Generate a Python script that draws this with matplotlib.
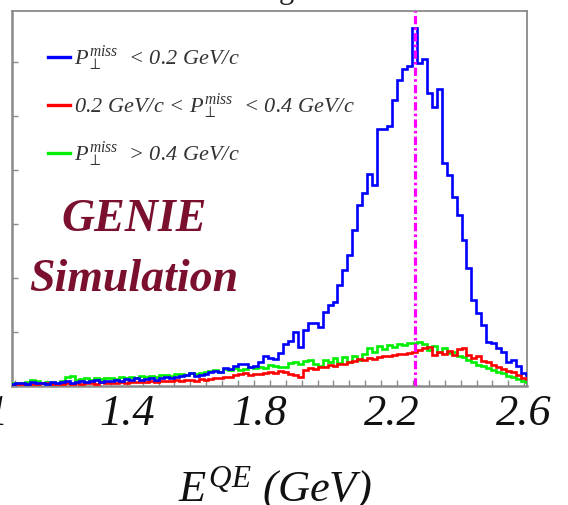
import numpy as np
import matplotlib
matplotlib.use("Agg")
import matplotlib.pyplot as plt
from matplotlib.lines import Line2D
from matplotlib.ticker import MultipleLocator
from matplotlib.transforms import offset_copy

plt.rcParams["font.family"] = ["Liberation Serif", "DejaVu Serif"]
plt.rcParams["mathtext.fontset"] = "custom"
plt.rcParams["mathtext.rm"] = "Liberation Serif"
plt.rcParams["mathtext.it"] = "Liberation Serif:italic"
plt.rcParams["mathtext.bf"] = "Liberation Serif:bold"

# Binning of the reconstructed energy histograms (GeV)
bin_start = 1.047
bin_width = 0.015

# Counts per bin for the three missing-transverse-momentum slices
low_pt = [
    8, 12, 10, 6, 14, 10, 12, 9, 15, 11,
    14, 18, 12, 16, 20, 13, 17, 22, 15, 19,
    18, 24, 20, 26, 22, 28, 21, 25, 30, 24,
    28, 32, 30, 35, 38, 42, 48, 36, 40, 44,
    52, 55, 52, 67, 63, 74, 81, 81, 70, 74,
    89, 111, 104, 100, 122, 156, 167, 200, 144, 207,
    233, 233, 218, 274, 300, 311, 374, 430, 485, 578,
    670, 714, 784, 744, 951, 951, 962, 1058, 1132, 1173,
    1184, 1325, 1195, 1213, 1084, 1033, 1099, 825, 781, 700,
    633, 540, 437, 318, 270, 226, 163, 159, 141, 126,
    89, 96, 74, 48, 40,
]
mid_pt = [
    5, 6, 8, 7, 6, 9, 12, 10, 8, 7,
    8, 10, 9, 11, 8, 12, 10, 9, 13, 11,
    12, 10, 14, 12, 15, 13, 16, 14, 17, 15,
    18, 20, 17, 22, 19, 24, 21, 20, 25, 22,
    26, 30, 28, 34, 32, 40, 44, 48, 42, 46,
    44, 50, 52, 48, 54, 52, 46, 40, 34, 60,
    68, 64, 72, 70, 78, 74, 82, 80, 88, 92,
    100, 96, 104, 100, 108, 112, 110, 116, 120, 118,
    122, 126, 133, 141, 144, 115, 126, 118, 130, 115,
    137, 141, 115, 104, 111, 93, 89, 78, 70, 63,
    56, 52, 41, 30, 26,
]
high_pt = [
    10, 12, 11, 13, 22, 20, 12, 14, 16, 12,
    18, 35, 36, 22, 25, 28, 24, 30, 26, 28,
    30, 26, 32, 28, 34, 30, 36, 32, 38, 34,
    40, 42, 38, 44, 46, 40, 48, 44, 50, 52,
    55, 58, 52, 62, 60, 66, 58, 64, 70, 66,
    72, 68, 78, 74, 70, 72, 86, 90, 82, 92,
    96, 81, 74, 96, 89, 104, 85, 107, 89, 111,
    96, 118, 141, 126, 148, 137, 152, 144, 156, 152,
    159, 159, 163, 156, 133, 148, 126, 141, 122, 126,
    111, 107, 96, 89, 78, 74, 67, 59, 52, 48,
    37, 33, 26, 19, 15,
]

series_labels = [
    r"$P_{\perp}^{miss}$  < 0.2 GeV/c",
    r"0.2 GeV/c < $P_{\perp}^{miss}$  < 0.4 GeV/c",
    r"$P_{\perp}^{miss}$  > 0.4 GeV/c",
]
series_colors = ["#0000ff", "#ff0000", "#00ee00"]

beam_energy = 2.27
tick_values = [1.0, 1.4, 1.8, 2.2, 2.6]
tick_labels = ["1", "1.4", "1.8", "2.2", "2.6"]

fig = plt.figure(figsize=(5.68, 5.05), dpi=100)
ax = fig.add_axes([12 / 568, 1 - 386 / 505, 515 / 568, 375 / 505])

n_bins = len(low_pt)
edges = bin_start + bin_width * np.arange(n_bins + 1)

# draw lower-statistics slices first so the dominant one sits on top
for counts, color, z in zip([high_pt, mid_pt, low_pt],
                            [series_colors[2], series_colors[1], series_colors[0]],
                            [3, 4, 5]):
    ax.stairs(counts, edges, color=color, lw=1.9, zorder=z, baseline=None)

ax.axvline(beam_energy, color="#ff00ff", lw=2.3, zorder=6,
           dashes=[2.6, 1.0, 0.8, 1.0])

ax.set_xlim(1.053, 2.610)
ax.set_ylim(0, 1389)

# frame and ticks
for side, sp in ax.spines.items():
    sp.set_color("#8a8a8a")
    sp.set_linewidth(1.3)
ax.spines["left"].set_linewidth(1.8)
ax.spines["bottom"].set_linewidth(1.8)

ax.yaxis.set_major_locator(MultipleLocator(200))
ax.set_yticklabels([])
ax.xaxis.set_major_locator(MultipleLocator(0.04807, offset=2.2653 % 0.04807))
ax.set_xticklabels([])
ax.tick_params(axis="both", which="major", direction="in", length=4.5,
               width=1.0, color="#8a8a8a", top=False, right=False)

# energy axis labels (the leftmost one sits partly beyond the canvas edge)
label_shift = [2, 0, 0, 0, 0]
for val, lab, dx in zip(tick_values, tick_labels, label_shift):
    tr = offset_copy(ax.get_xaxis_transform(), fig=fig, x=dx, y=0, units="dots")
    ax.text(val, -0.075, lab, transform=tr,
            ha="center", va="center", fontsize=32, style="italic",
            color="#111111", clip_on=False)

fig.text(275 / 568, 1 - 489 / 505, r"$E^{QE}$ (GeV)", ha="center", va="center",
         fontsize=32, style="italic", color="#111111")

# legend
handles = [Line2D([], [], color=c, lw=2.4) for c in series_colors]
leg = ax.legend(handles, series_labels, loc="upper left",
                bbox_to_anchor=(0.070, 0.913), frameon=False,
                handlelength=1.0, handletextpad=0.15, labelspacing=0.82,
                prop={"size": 16, "style": "italic"}, labelcolor="#333333",
                borderaxespad=0, borderpad=0)

# simulation tag
tag_color = "#7a0f2e"
ax.text(122 / 515, 1 - (220 - 11) / 375, "GENIE",
        transform=ax.transAxes, ha="center", va="center", fontsize=33,
        fontweight="bold", style="italic", color=tag_color)
ax.text(121.5 / 515, 1 - (280 - 11) / 375, "Simulation",
        transform=ax.transAxes, ha="center", va="center", fontsize=33,
        fontweight="bold", style="italic", color=tag_color)

# descender of the title line above the frame
fig.text(286 / 568, 1 + 2 / 505, "g", ha="center", va="baseline",
         fontsize=22, color="#222222")

fig.savefig("out.png", dpi=100)
